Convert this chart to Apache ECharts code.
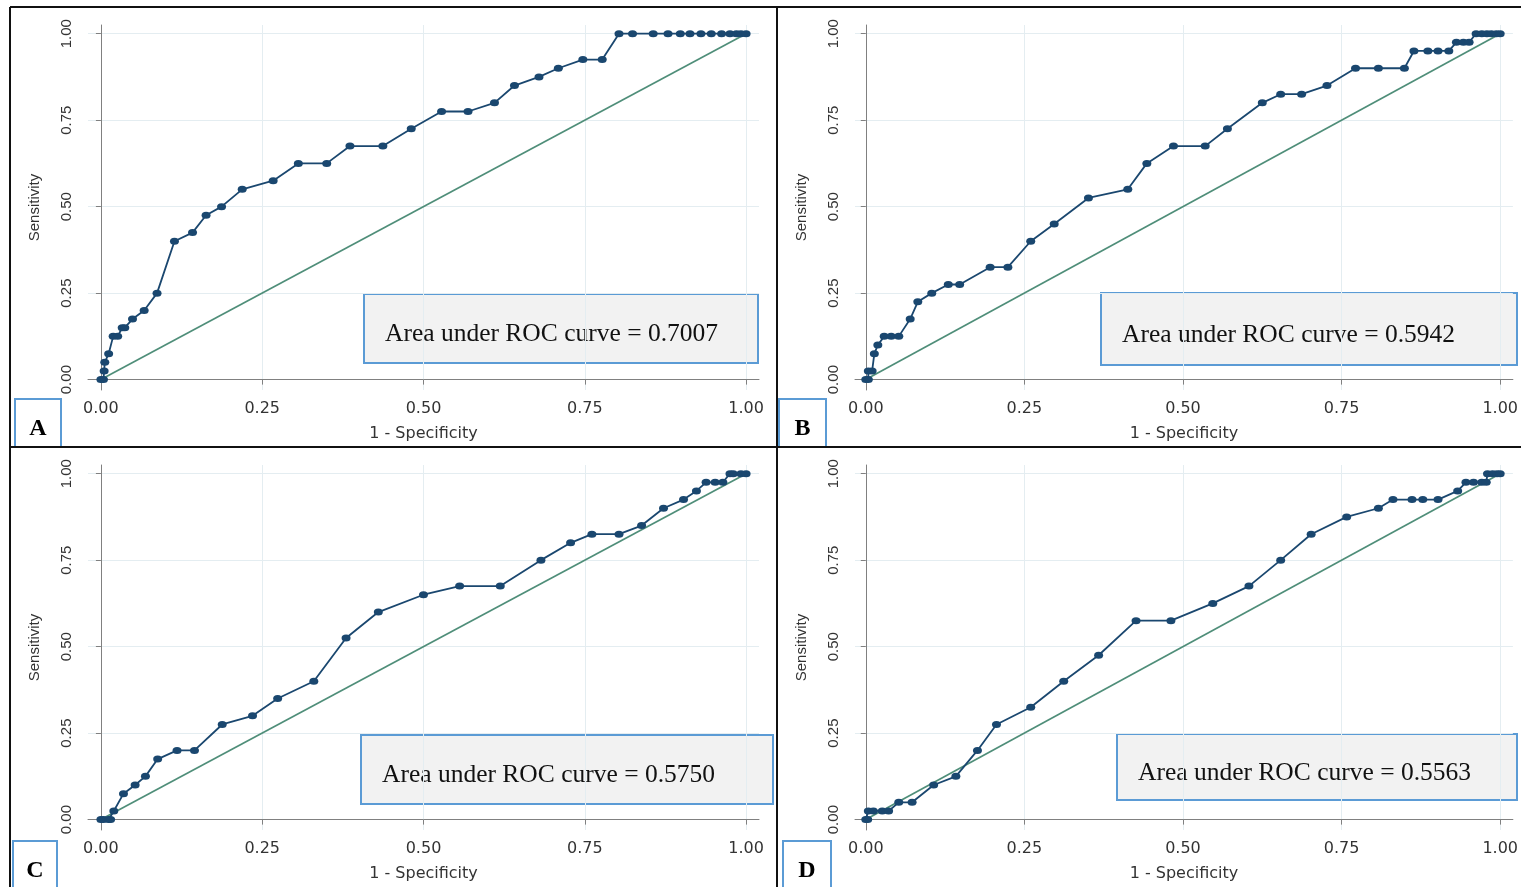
<!DOCTYPE html>
<html>
<head>
<meta charset="utf-8">
<script src="https://cdn.jsdelivr.net/npm/echarts@6/dist/echarts.min.js"></script>
<style>
  html, body { margin: 0; padding: 0; background: #fff; }
  #chart { width: 1521px; height: 887px; }
</style>
</head>
<body>
<div id="chart"></div>
<script>
// ROC points (1 - specificity, sensitivity)
const fprA = [0, 0.004, 0.005, 0.006, 0.012, 0.019, 0.026, 0.033, 0.037, 0.049, 0.067, 0.087, 0.114, 0.142, 0.163, 0.187, 0.219, 0.267, 0.306, 0.350, 0.386, 0.437, 0.481, 0.528, 0.569, 0.610, 0.641, 0.679, 0.709, 0.747, 0.777, 0.803, 0.824, 0.856, 0.879, 0.898, 0.913, 0.930, 0.946, 0.962, 0.975, 0.985, 0.992, 1.0];
const tprA = [0, 0, 0.025, 0.05, 0.075, 0.125, 0.125, 0.15, 0.15, 0.175, 0.2, 0.25, 0.4, 0.425, 0.475, 0.5, 0.55, 0.575, 0.625, 0.625, 0.675, 0.675, 0.725, 0.775, 0.775, 0.8, 0.85, 0.875, 0.9, 0.925, 0.925, 1, 1, 1, 1, 1, 1, 1, 1, 1, 1, 1, 1, 1];

const fprB = [0, 0.004, 0.004, 0.010, 0.0135, 0.019, 0.029, 0.040, 0.052, 0.070, 0.082, 0.104, 0.130, 0.148, 0.196, 0.224, 0.260, 0.297, 0.351, 0.413, 0.443, 0.485, 0.535, 0.570, 0.625, 0.654, 0.687, 0.727, 0.772, 0.808, 0.849, 0.864, 0.886, 0.902, 0.919, 0.931, 0.942, 0.951, 0.962, 0.971, 0.979, 0.986, 0.994, 1.0];
const tprB = [0, 0, 0.025, 0.025, 0.075, 0.1, 0.125, 0.125, 0.125, 0.175, 0.225, 0.25, 0.275, 0.275, 0.325, 0.325, 0.4, 0.45, 0.525, 0.55, 0.625, 0.675, 0.675, 0.725, 0.8, 0.825, 0.825, 0.85, 0.9, 0.9, 0.9, 0.95, 0.95, 0.95, 0.95, 0.975, 0.975, 0.975, 1, 1, 1, 1, 1, 1];

const fprC = [0, 0.004, 0.012, 0.015, 0.020, 0.035, 0.053, 0.069, 0.088, 0.118, 0.145, 0.188, 0.235, 0.274, 0.330, 0.380, 0.430, 0.500, 0.556, 0.619, 0.682, 0.728, 0.761, 0.803, 0.838, 0.872, 0.903, 0.923, 0.938, 0.952, 0.964, 0.975, 0.980, 0.992, 1.0];
const tprC = [0, 0, 0, 0, 0.025, 0.075, 0.1, 0.125, 0.175, 0.2, 0.2, 0.275, 0.3, 0.35, 0.4, 0.525, 0.6, 0.65, 0.675, 0.675, 0.75, 0.8, 0.825, 0.825, 0.85, 0.9, 0.925, 0.95, 0.975, 0.975, 0.975, 1, 1, 1, 1];

const fprD = [0, 0.003, 0.004, 0.012, 0.026, 0.036, 0.052, 0.073, 0.107, 0.142, 0.176, 0.206, 0.260, 0.312, 0.367, 0.426, 0.481, 0.547, 0.604, 0.654, 0.702, 0.758, 0.808, 0.831, 0.861, 0.878, 0.902, 0.933, 0.946, 0.958, 0.971, 0.978, 0.980, 0.988, 0.995, 1.0];
const tprD = [0, 0, 0.025, 0.025, 0.025, 0.025, 0.05, 0.05, 0.1, 0.125, 0.2, 0.275, 0.325, 0.4, 0.475, 0.575, 0.575, 0.625, 0.675, 0.75, 0.825, 0.875, 0.9, 0.925, 0.925, 0.925, 0.925, 0.95, 0.975, 0.975, 0.975, 0.975, 1, 1, 1, 1];

const aucValues = ['0.7007', '0.5942', '0.5750', '0.5563'];
const panelLetters = ['A', 'B', 'C', 'D'];
const ticks = [0, 0.25, 0.5, 0.75, 1];
const diagonal = [[0, 0], [1, 1]];

const curves = [[fprA, tprA], [fprB, tprB], [fprC, tprC], [fprD, tprD]];

// layout of each panel (pixels)
const layout = [
  { left: 88, top: 25, width: 671, height: 365, xmin: -0.02, auc: [363, 293, 394, 69], tag: [14, 398, 46, 48] },
  { left: 855, top: 25, width: 664, height: 365, xmin: -0.017, auc: [1100, 292, 416, 72], tag: [778, 398, 47, 48] },
  { left: 88, top: 465, width: 671, height: 365, xmin: -0.02, auc: [360, 734, 412, 69], tag: [12, 840, 44, 48] },
  { left: 855, top: 465, width: 664, height: 365, xmin: -0.017, auc: [1116, 733, 400, 66], tag: [782, 840, 48, 48] }
];

const NAVY = '#1a476f';
const GREEN = '#4f8e79';
const GRIDC = '#e4edf1';
const AXISC = '#808080';
const wide = 'DejaVu Sans, Verdana, sans-serif';
const narrow = 'Liberation Sans Narrow, Arial Narrow, Liberation Sans, sans-serif';
const sans = 'Liberation Sans, Arial, sans-serif';
const serif = 'Liberation Serif, Times New Roman, serif';

const fmt = v => v.toFixed(2);

const grid = [], xAxis = [], yAxis = [], series = [], graphic = [];

layout.forEach((p, i) => {
  grid.push({ left: p.left, top: p.top, width: p.width, height: p.height, containLabel: false });

  xAxis.push({
    type: 'value', gridIndex: i, min: p.xmin, max: 1.02,
    name: '1 - Specificity', nameLocation: 'middle', nameGap: 36,
    nameTextStyle: { fontFamily: wide, fontSize: 16, color: '#333' },
    axisLine: { show: true, lineStyle: { color: AXISC, width: 1 } },
    axisTick: { show: true, length: 5, customValues: ticks, lineStyle: { color: AXISC } },
    axisLabel: { customValues: ticks, formatter: fmt, fontFamily: wide, fontSize: 16, color: '#333', margin: 11 },
    splitLine: { show: true, lineStyle: { color: GRIDC, width: 1 } }
  });

  yAxis.push({
    type: 'value', gridIndex: i, min: -0.03, max: 1.025,
    name: 'Sensitivity', nameLocation: 'middle', nameGap: 46,
    nameTextStyle: { fontFamily: sans, fontSize: 15, color: '#333' },
    axisLine: { show: true, lineStyle: { color: AXISC, width: 1 } },
    axisTick: { show: true, length: 5, customValues: ticks, lineStyle: { color: AXISC } },
    axisLabel: { customValues: ticks, formatter: fmt, rotate: 90, fontFamily: narrow, fontSize: 15, color: '#333', margin: 14 },
    splitLine: { show: true, lineStyle: { color: GRIDC, width: 1 } }
  });

  series.push({
    type: 'line', xAxisIndex: i, yAxisIndex: i,
    data: diagonal, symbol: 'none', silent: true,
    lineStyle: { color: GREEN, width: 1.7 }, z: 2
  });

  const [fpr, tpr] = curves[i];
  series.push({
    type: 'line', xAxisIndex: i, yAxisIndex: i,
    data: fpr.map((x, k) => [x, tpr[k]]),
    symbol: 'circle', symbolSize: [9, 7],
    itemStyle: { color: NAVY },
    lineStyle: { color: NAVY, width: 1.8 }, z: 3
  });

  const [ax, ay, aw, ah] = p.auc;
  graphic.push({
    type: 'group', left: ax, top: ay, z: 100,
    children: [
      { type: 'rect', shape: { x: 0, y: 0, width: aw, height: ah },
        style: { fill: '#f2f2f2', stroke: '#5b9bd5', lineWidth: 2 } },
      { type: 'text', x: 21, y: ah / 2 + 6,
        style: { text: 'Area under ROC curve = ' + aucValues[i], font: '25.5px ' + serif,
          fill: '#111', verticalAlign: 'middle' } }
    ]
  });

  const [tx, ty, tw, th] = p.tag;
  graphic.push({
    type: 'group', left: tx, top: ty, z: 101,
    children: [
      { type: 'rect', shape: { x: 0, y: 0, width: tw, height: th },
        style: { fill: '#fff', stroke: '#5b9bd5', lineWidth: 2 } },
      { type: 'text', x: tw / 2, y: th / 2 + 6,
        style: { text: panelLetters[i], font: 'bold 24px ' + serif, fill: '#000',
          align: 'center', verticalAlign: 'middle' } }
    ]
  });
});

// black panel frames
const frame = [
  [10, 7, 1521, 7], [10, 7, 10, 887], [10, 447, 1521, 447], [777, 7, 777, 887]
];
frame.forEach(([x1, y1, x2, y2]) => {
  graphic.push({ type: 'line', z: 90, shape: { x1, y1, x2, y2 },
    style: { stroke: '#111', lineWidth: 2 } });
});

const chart = echarts.init(document.getElementById('chart'));
chart.setOption({
  animation: false,
  backgroundColor: '#fff',
  grid, xAxis, yAxis, series, graphic
});
window.addEventListener('resize', () => chart.resize());
</script>
</body>
</html>
